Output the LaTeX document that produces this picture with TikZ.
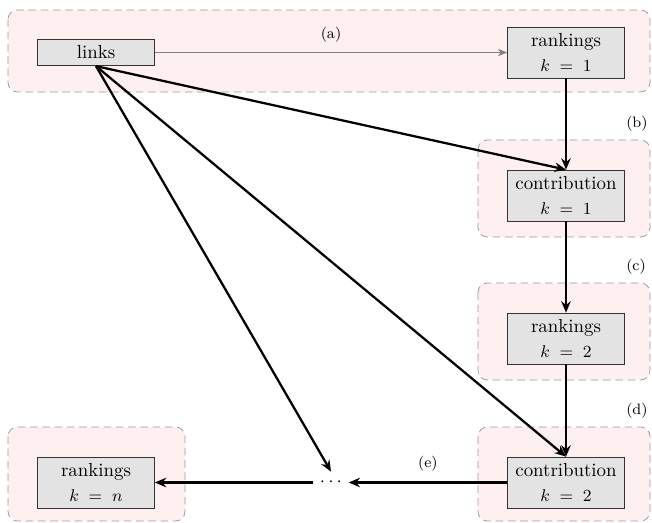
\documentclass[tikz,border=0pt]{standalone}
\usetikzlibrary{arrows.meta}
\definecolor{grouppink}{RGB}{254,240,241}
\definecolor{boxgray}{RGB}{227,227,227}
\tikzset{
  stage/.style={draw=black!80, fill=boxgray, minimum width=62pt, align=center, inner xsep=2pt, inner ysep=3.5pt},
  stagetwo/.style={stage, minimum height=27pt, inner ysep=2pt},
  groupbox/.style={draw=black!40, dash pattern=on 4pt off 2.5pt, fill=grouppink, rounded corners=5pt},
  flow/.style={-{Stealth[length=6pt,width=5pt]}, line width=1.2pt},
  step label/.style={font=\footnotesize},
}
\begin{document}
\begin{tikzpicture}[x=0.53pt, y=-0.53pt]
  \useasboundingbox (0,0) rectangle (652,523);
  % groups
  \draw[groupbox] (8,10) rectangle (650,92);
  \draw[groupbox] (478,140) rectangle (650,237);
  \draw[groupbox] (478,283) rectangle (650,380);
  \draw[groupbox] (478,427) rectangle (650,521);
  \draw[groupbox] (8,427) rectangle (185,521);
  % stages
  \node[stage] (links) at (96,52.5) {links};
  \node[stagetwo] (rank1) at (566,52.5) {rankings\\[1pt] \small $k\;=\;1$};
  \node[stagetwo] (contrib1) at (566,195.5) {contribution\\[1pt] \small $k\;=\;1$};
  \node[stagetwo] (rank2) at (566,338.5) {rankings\\[1pt] \small $k\;=\;2$};
  \node[stagetwo] (contrib2) at (566,482.5) {contribution\\[1pt] \small $k\;=\;2$};
  \node[stagetwo] (rankn) at (96,482.5) {rankings\\[1pt] \small $k\;=\;n$};
  \node (dots) at (331,482.5) {$\cdots$};
  % arrows
  \draw[-{Stealth[length=5pt,width=4pt]}, black!50, line width=0.5pt] (links) -- (rank1)
    node[midway, above=2pt, step label, black] {(a)};
  \draw[flow] (rank1) -- (contrib1) node[midway, right=28pt, step label] {(b)};
  \draw[flow] (contrib1) -- (rank2) node[midway, right=28pt, step label] {(c)};
  \draw[flow] (rank2) -- (contrib2) node[midway, right=28pt, step label] {(d)};
  \draw[flow] (links.south) -- (contrib1.north);
  \draw[flow] (links.south) -- (contrib2.north);
  \draw[flow] (links.south) -- (dots.north);
  \draw[flow] (contrib2) -- (dots) node[midway, above=2pt, step label] {(e)};
  \draw[flow] (dots) -- (rankn);
\end{tikzpicture}
\end{document}
